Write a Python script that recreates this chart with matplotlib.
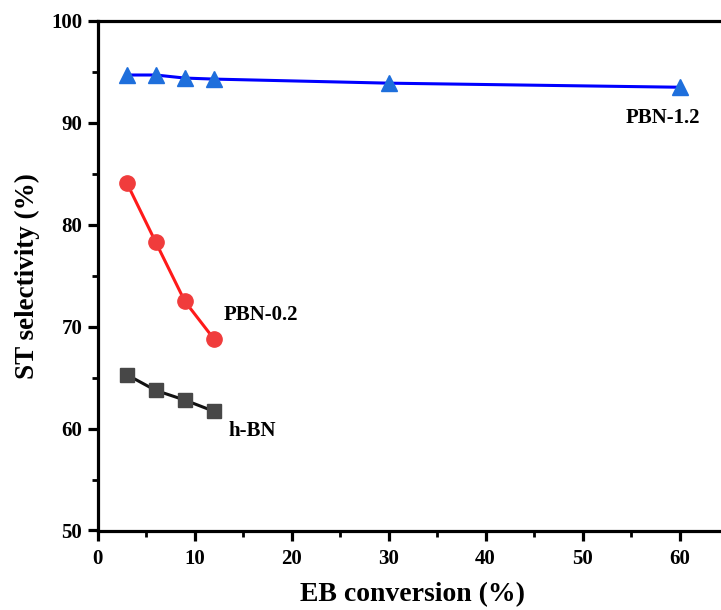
import matplotlib
matplotlib.use("Agg")
import matplotlib.pyplot as plt
from matplotlib.ticker import MultipleLocator

# EB conversion (%) for each catalyst
x_pbn12 = [3, 6, 9, 12, 30, 60]
x_pbn02 = [3, 6, 9, 12]
x_hbn = [3, 6, 9, 12]

# ST selectivity (%)
y_pbn12 = [94.7, 94.7, 94.4, 94.3, 93.9, 93.5]
y_pbn02 = [84.15, 78.3, 72.5, 68.8]
y_hbn = [65.3, 63.75, 62.8, 61.7]

labels = ["PBN-1.2", "PBN-0.2", "h-BN"]

plt.rcParams["font.family"] = ["Liberation Serif", "DejaVu Serif"]
plt.rcParams["font.weight"] = "bold"

fig = plt.figure(figsize=(7.21, 6.10), dpi=100)
x0 = 97.5 / 721
x65 = (97.5 + 65 * 9.7) / 721
ax = fig.add_axes([x0, 1 - 530.5 / 610, x65 - x0, (530.5 - 21) / 610])

ax.plot(x_pbn12, y_pbn12, color="#0000ff", lw=2.2, marker="^", ms=11,
        mfc="#1e6fdc", mec="#1e6fdc", zorder=3)
ax.plot(x_pbn02, y_pbn02, color="#ff1a1a", lw=2.2, marker="o", ms=11,
        mfc="#f03c3c", mec="#f03c3c", zorder=3)
ax.plot(x_hbn, y_hbn, color="#111111", lw=2.2, marker="s", ms=9.5,
        mfc="#474747", mec="#474747", zorder=3)

ax.text(58.3, 90.5, labels[0], ha="center", va="center", fontsize=15, fontweight="bold")
ax.text(16.8, 71.1, labels[1], ha="center", va="center", fontsize=15, fontweight="bold")
ax.text(16.0, 59.8, labels[2], ha="center", va="center", fontsize=15, fontweight="bold")

ax.set_xlim(0, 65)
ax.set_ylim(50, 100)
ax.xaxis.set_major_locator(MultipleLocator(10))
ax.xaxis.set_minor_locator(MultipleLocator(5))
ax.yaxis.set_major_locator(MultipleLocator(10))
ax.yaxis.set_minor_locator(MultipleLocator(5))

for side in ["left", "bottom", "top", "right"]:
    ax.spines[side].set_linewidth(2.3)
ax.spines["right"].set_visible(False)

ax.tick_params(which="major", direction="out", length=7, width=2.3,
               labelsize=15)
ax.tick_params(axis="x", which="major", pad=6)
ax.tick_params(axis="y", which="major", pad=4)
ax.tick_params(which="minor", direction="out", length=4, width=2.0)
ax.tick_params(top=False, right=False, which="both")
for lab in ax.get_xticklabels() + ax.get_yticklabels():
    lab.set_fontweight("bold")

ax.set_xlabel("EB conversion (%)", fontsize=20, fontweight="bold", labelpad=10)
ax.set_ylabel("ST selectivity (%)", fontsize=19.5, fontweight="bold", labelpad=8)

fig.savefig("out.png", dpi=100)
